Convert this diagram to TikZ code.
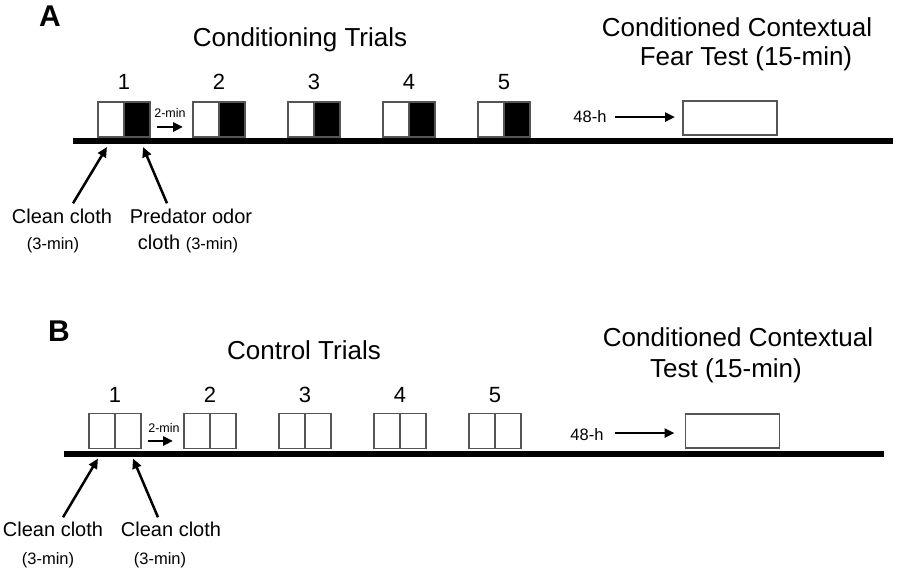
\documentclass[tikz,border=0pt]{standalone}
\usepackage{fontspec}
\setmainfont{Liberation Sans}
\usetikzlibrary{arrows.meta,positioning,calc}
\definecolor{boxgrey}{HTML}{555555}
\newcommand{\fsz}[1]{\fontsize{#1pt}{#1pt}\selectfont}

\begin{document}
\begin{tikzpicture}[
		x=1pt, y=1pt,
		half/.style={draw=boxgrey, line width=1.3pt, minimum width=26pt, minimum height=35pt, inner sep=0pt, outer sep=0pt},
		testbox/.style={draw=boxgrey, line width=1.3pt, minimum width=94pt, minimum height=34pt, inner sep=0pt, outer sep=0pt},
		panel/.style={anchor=base, inner sep=0pt, font=\bfseries\fsz{30}},
		ttl/.style={anchor=base, inner sep=0pt, font=\fsz{26}},
		num/.style={anchor=base, inner sep=0pt, font=\fsz{22}},
		lbl/.style={anchor=base, inner sep=0pt, font=\fsz{20}},
		sml/.style={anchor=base, inner sep=0pt, font=\fsz{16.5}},
		mini/.style={anchor=base, inner sep=0pt, font=\fsz{12.5}},
		ptr/.style={-{Triangle[length=10pt,width=9pt]}, line width=2.5pt},
		timeline/.style={line width=6pt}
		]
		\useasboundingbox (0,0) rectangle (898,572);
		
		% --------------------------------------------------
		% Panel A: conditioning
		% --------------------------------------------------
		\node[panel] (panA) at (50,545) {A};
		\node[ttl] (trialsA) at (300,525) {Conditioning Trials};
		
		\draw[timeline] (73,431) -- (893,431);
		
		% five trials
		\foreach \k [evaluate=\k as \x using 16+95*\k] in {1,...,5}
		{
			\node[half, fill=white] (wA\k) at (\x,452.5) {};
			\node[half, fill=black, right=0pt of wA\k] (kA\k) {};
			\node[num] (nA\k) at ($(wA\k.north east)+(0,12)$) {\k};
		}
		
		% inter-trial interval
		\node[mini] (minA) at (170,454) {2-min};
		\draw[ptr] ($(kA1.east)+(7,-7.5)$) -- ($(wA2.west)+(-10,-7.5)$);
		
		% test
		\node[sml] (hA) at (590,449) {48-h};
		\node[testbox] (testA) at (730,454) {};
		\draw[ptr] ($(hA.east)+(8,0)$) -- ($(testA.west |- hA.east)+(-8,0)$);
		\node[ttl] (testA1) at (737,535) {Conditioned Contextual};
		\node[ttl] (testA2) at (746,506) {Fear Test (15-min)};
		
		% cloth labels
		\node[lbl] (cleanA) at (62,348) {Clean cloth};
		\node[sml] (cleanAt) at (53,322) {(3-min)};
		\node[lbl] (predA) at (191,348) {Predator odor};
		\node[lbl] (predAt) at (188,322) {cloth {\fsz{16.5}(3-min)}};
		\draw[ptr] ($(cleanA.north)+(11,6)$) -- ($(wA1.south)+(-4,-10)$);
		\draw[ptr] ($(predA.north)+(-24,6)$) -- ($(kA1.south)+(6,-10)$);
		
		% --------------------------------------------------
		% Panel B: control
		% --------------------------------------------------
		\node[panel] (panB) at (59,230) {B};
		\node[ttl] (trialsB) at (304,212) {Control Trials};
		
		\draw[timeline] (64,118) -- (884,118);
		
		% five trials
		\foreach \k [evaluate=\k as \x using 7+95*\k] in {1,...,5}
		{
			\node[half, fill=white] (wB\k) at (\x,141) {};
			\node[half, fill=white, right=0pt of wB\k] (vB\k) {};
			\node[num] (nB\k) at ($(wB\k.north east)+(0,11)$) {\k};
		}
		
		% inter-trial interval
		\node[mini] (minB) at (164,139) {2-min};
		\draw[ptr] ($(vB1.east)+(7,-10)$) -- ($(wB2.west)+(-11,-10)$);
		
		% test
		\node[sml] (hB) at (587,131) {48-h};
		\node[testbox] (testB) at (732.5,141) {};
		\draw[ptr] ($(hB.east)+(11,2)$) -- ($(testB.west |- hB.east)+(-11,2)$);
		\node[ttl] (testB1) at (738,225) {Conditioned Contextual};
		\node[ttl] (testB2) at (726,194) {Test (15-min)};
		
		% cloth labels
		\node[lbl] (cleanB) at (53,35) {Clean cloth};
		\node[sml] (cleanBt) at (48,7) {(3-min)};
		\node[lbl] (cleanC) at (171,35) {Clean cloth};
		\node[sml] (cleanCt) at (160,7) {(3-min)};
		\draw[ptr] ($(cleanB.north)+(10,5)$) -- ($(wB1.south)+(-4,-10)$);
		\draw[ptr] ($(cleanC.north)+(-13,5)$) -- ($(vB1.south)+(5,-10)$);
		
	\end{tikzpicture}
\end{document}
